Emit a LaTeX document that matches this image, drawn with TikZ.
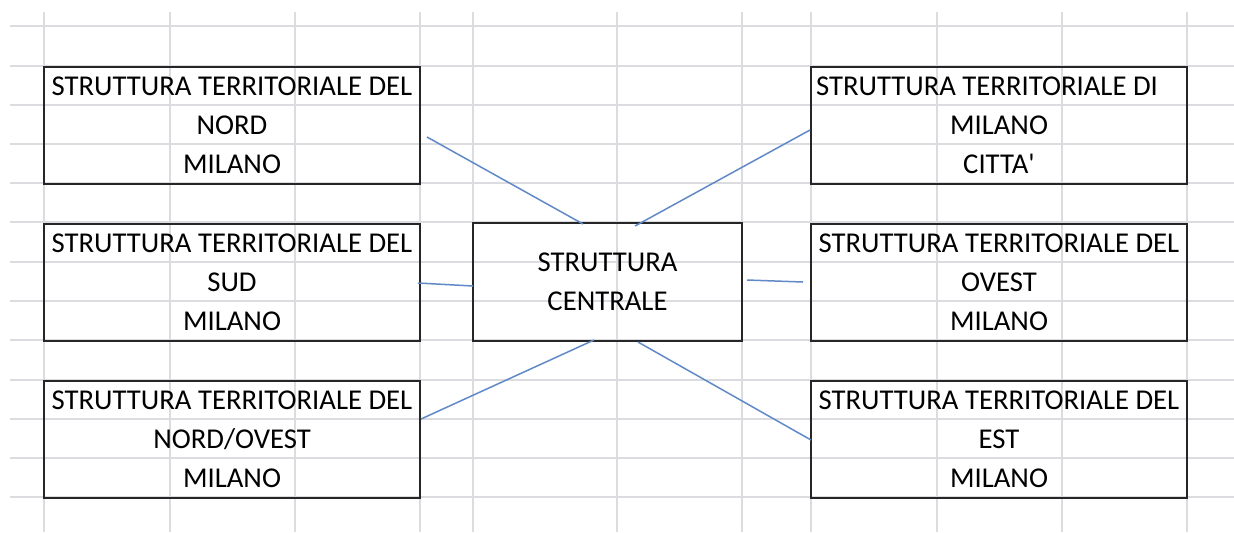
\documentclass[tikz,border=0pt]{standalone}
\usepackage{fontspec}
\setmainfont{Carlito}
\usepackage{tikz}
\usetikzlibrary{positioning,calc}
\definecolor{gridgray}{RGB}{218,220,223}
\definecolor{linkblue}{RGB}{98,137,199}

\begin{document}
\begin{tikzpicture}[x=0.5pt,y=-0.5pt,
  box/.style={draw=black!85,line width=1pt,minimum width=188pt,minimum height=58.5pt,
    inner sep=0pt,outer sep=0pt,align=center,font=\fontsize{14.35}{19.5}\selectfont},
  link/.style={draw=linkblue,line width=0.75pt}]
  \path[fill=white,use as bounding box] (0,0) rectangle (1234,532);

  % foglio
  \foreach \y in {26,66,105,144,183,222,262,301,340,380,419,458,497}
  \draw[gridgray,line width=0.75pt] (10,\y) -- (1234,\y);
  \foreach \x in {44,170,295,420,473,617,742,811,937,1062,1187}
  \draw[gridgray,line width=0.75pt] (\x,12) -- (\x,532);

  \node[box] (nord) at (232,125.5) {STRUTTURA TERRITORIALE DEL\\NORD\\MILANO};
  \node[box] (sud) at (232,282) {STRUTTURA TERRITORIALE DEL\\SUD\\MILANO};
  \node[box] (nordovest) at (232,439.5) {STRUTTURA TERRITORIALE DEL\\NORD/OVEST\\MILANO};

  \node[box] (citta) at (999,125.5) {STRUTTURA TERRITORIALE DI\hspace*{12pt}\\MILANO\\CITTA\textquotesingle};
  \node[box] (ovest) at (999,282) {STRUTTURA TERRITORIALE DEL\\OVEST\\MILANO};
  \node[box] (est) at (999,439.5) {STRUTTURA TERRITORIALE DEL\\EST\\MILANO};

  \node[box,minimum width=134.5pt,minimum height=59pt] (centrale) at (607.5,282) {STRUTTURA\\CENTRALE};

  \draw[link] ($(nord.east)+(7,11.5)$) -- ($(centrale.north)+(-24.5,1)$);
  \draw[link] ($(citta.west)+(-1,4.5)$) -- ($(centrale.north)+(27.5,3)$);
  \draw[link] ($(sud.east)+(-2,1)$) -- ($(centrale.west)+(0,4)$);
  \draw[link] ($(centrale.east)+(5,-2)$) -- ($(ovest.west)+(-8,0)$);
  \draw[link] ($(nordovest.east)+(1,-20.5)$) -- ($(centrale.south)+(-13.5,-1)$);
  \draw[link] ($(centrale.south)+(30.5,1)$) -- ($(est.west)+(0,0.5)$);

\end{tikzpicture}
\end{document}
